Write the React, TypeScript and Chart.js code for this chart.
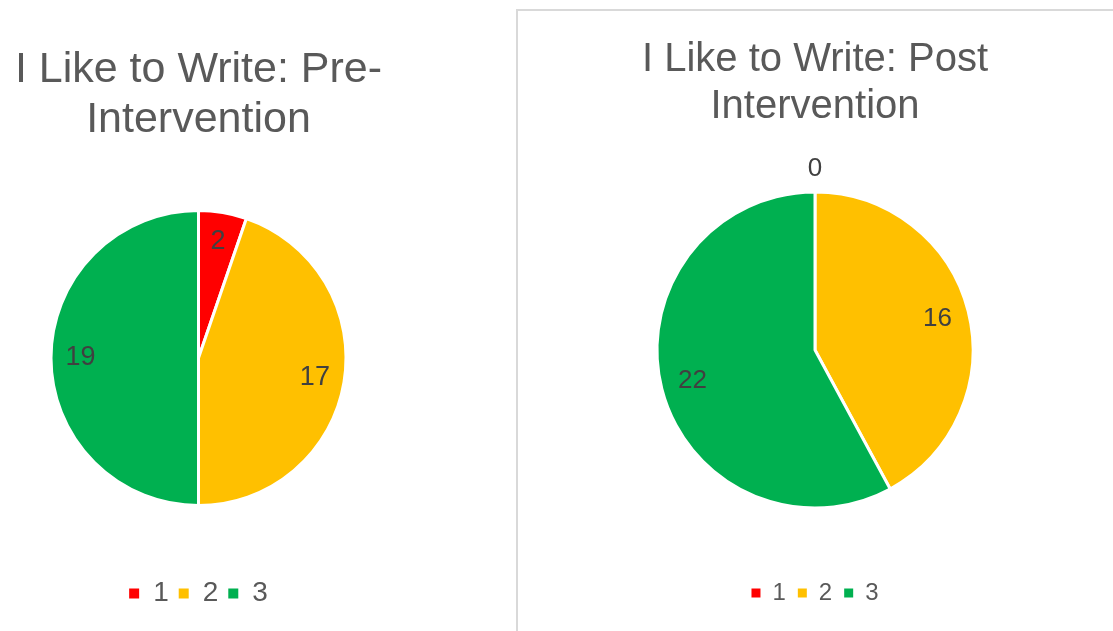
import React, { useEffect, useRef } from "react";
import { Chart, registerables } from "chart.js";

Chart.register(...registerables);

const categories = ["1", "2", "3"];
const preValues = [2, 17, 19];
const postValues = [0, 16, 22];
const sliceColors = ["#FF0000", "#FFC000", "#00B050"];
const preTitle = ["I Like to Write: Pre-", "Intervention"];
const postTitle = ["I Like to Write: Post", "Intervention"];

const FONT = "'Liberation Sans', Arial, Helvetica, sans-serif";

const sliceLabels = {
  id: "sliceLabels",
  afterDatasetsDraw(chart: any, _args: any, opts: any) {
    const ctx = chart.ctx;
    const meta = chart.getDatasetMeta(0);
    const data = chart.data.datasets[0].data as number[];
    ctx.save();
    ctx.font = `${opts.size}px ${FONT}`;
    ctx.fillStyle = opts.color;
    ctx.textAlign = "center";
    ctx.textBaseline = "middle";
    meta.data.forEach((el: any, i: number) => {
      const p = el.getProps(["x", "y", "startAngle", "endAngle", "outerRadius"], true);
      const mid = (p.startAngle + p.endAngle) / 2;
      const r = data[i] === 0 ? p.outerRadius + opts.outside : p.outerRadius * opts.inside;
      ctx.fillText(String(data[i]), p.x + Math.cos(mid) * r, p.y + Math.sin(mid) * r);
    });
    ctx.restore();
  },
};

type Cfg = {
  values: number[];
  title: string[];
  titleSize: number;
  titleLine: number;
  titlePadTop: number;
  titlePadBottom: number;
  legendSize: number;
  legendBox: number;
  legendPad: number;
  padBottom: number;
  radius: number;
  labelSize: number;
};

function makeConfig(c: Cfg): any {
  return {
    type: "pie",
    data: {
      labels: categories,
      datasets: [
        {
          data: c.values,
          backgroundColor: sliceColors,
          borderColor: "#FFFFFF",
          borderWidth: 3,
        },
      ],
    },
    options: {
      responsive: false,
      animation: false,
      radius: c.radius,
      layout: { padding: { top: 0, bottom: c.padBottom, left: 0, right: 0 } },
      plugins: {
        tooltip: { enabled: false },
        title: {
          display: true,
          text: c.title,
          color: "#595959",
          font: { family: FONT, size: c.titleSize, weight: "normal", lineHeight: c.titleLine / c.titleSize },
          padding: { top: c.titlePadTop, bottom: c.titlePadBottom },
        },
        legend: {
          display: true,
          position: "bottom",
          labels: {
            color: "#595959",
            font: { family: FONT, size: c.legendSize },
            boxWidth: c.legendBox,
            boxHeight: c.legendBox,
            padding: c.legendPad,
            generateLabels: (chart: any) =>
              (Chart.overrides as any).pie.plugins.legend.labels
                .generateLabels(chart)
                .map((l: any) => ({ ...l, lineWidth: 0 })),
          },
        },
        sliceLabels: { size: c.labelSize, color: "#404040", inside: 0.8, outside: 23 },
      },
    },
    plugins: [sliceLabels],
  };
}

function PieCanvas({ cfg, width, height }: { cfg: Cfg; width: number; height: number }) {
  const ref = useRef<HTMLCanvasElement>(null);
  useEffect(() => {
    if (!ref.current) return;
    const chart = new Chart(ref.current, makeConfig(cfg));
    return () => chart.destroy();
  }, []);
  return <canvas ref={ref} width={width} height={height} style={{ display: "block", width, height }} />;
}

export default function App() {
  const preCfg: Cfg = {
    values: preValues,
    title: preTitle,
    titleSize: 43,
    titleLine: 50,
    titlePadTop: 45,
    titlePadBottom: 1.5,
    legendSize: 28,
    legendBox: 10,
    legendPad: 10,
    padBottom: 13.5,
    radius: 147.5,
    labelSize: 27,
  };
  const postCfg: Cfg = {
    values: postValues,
    title: postTitle,
    titleSize: 40,
    titleLine: 47,
    titlePadTop: 25.5,
    titlePadBottom: 0.5,
    legendSize: 24,
    legendBox: 9,
    legendPad: 12,
    padBottom: 16,
    radius: 158,
    labelSize: 26,
  };
  return (
    <div
      style={{
        position: "absolute",
        left: 0,
        top: 0,
        width: 1113,
        height: 631,
        overflow: "hidden",
        background: "#FFFFFF",
      }}
    >
      <div style={{ position: "absolute", left: 0, top: 0 }}>
        <PieCanvas cfg={preCfg} width={397} height={631} />
      </div>
      <div
        style={{
          position: "absolute",
          left: 516,
          top: 9,
          width: 610,
          height: 640,
          borderLeft: "2px solid #D9D9D9",
          borderTop: "2px solid #D9D9D9",
          boxSizing: "border-box",
        }}
      >
        <PieCanvas cfg={postCfg} width={594} height={620} />
      </div>
    </div>
  );
}
